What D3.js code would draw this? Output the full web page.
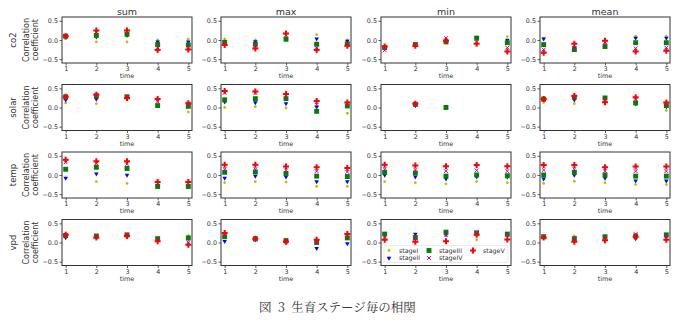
<!DOCTYPE html>
<html>
<head>
<meta charset="utf-8">
<script src="https://cdn.jsdelivr.net/npm/d3@7"></script>
<style>
  body { margin: 0; background: #fff; }
  text { font-family: "DejaVu Sans", sans-serif; fill: #333; }
</style>
</head>
<body>
<script>
// categories
const times = [1, 2, 3, 4, 5];
const stats = ['sum', 'max', 'min', 'mean'];
const variables = ['co2', 'solar', 'temp', 'vpd'];
const stages = ['stageI', 'stageII', 'stageIII', 'stageIV', 'stageV'];
const yTicks = [-0.5, 0.0, 0.5];

// correlation per stage (rows: stageI..stageV, cols: time 1..5)
const co2_sum = [
  [0.03, -0.05, -0.05, 0.0, 0.02],
  [0.1, 0.08, 0.12, -0.05, -0.05],
  [0.1, 0.12, 0.15, -0.12, -0.13],
  [0.1, 0.2, 0.22, -0.2, -0.2],
  [0.1, 0.25, 0.25, -0.26, -0.25]
];
const co2_max = [
  [0.03, 0.0, 0.02, 0.14, 0.0],
  [-0.05, -0.04, 0.02, 0.03, -0.03],
  [-0.06, -0.11, 0.02, -0.11, -0.1],
  [-0.1, -0.15, 0.12, -0.2, -0.12],
  [-0.13, -0.22, 0.17, -0.26, -0.15]
];
const co2_min = [
  [-0.22, -0.14, 0.02, 0.05, 0.09],
  [-0.2, -0.12, 0.0, 0.05, 0.0],
  [-0.2, -0.12, -0.05, 0.05, -0.07],
  [-0.27, -0.1, 0.05, -0.05, -0.2],
  [-0.17, -0.15, -0.02, -0.1, -0.3]
];
const co2_mean = [
  [0.05, -0.2, -0.15, 0.1, 0.1],
  [0.03, -0.2, -0.15, 0.05, 0.05],
  [-0.12, -0.25, -0.17, -0.07, -0.07],
  [-0.25, -0.22, -0.12, -0.22, -0.2],
  [-0.33, -0.1, -0.02, -0.3, -0.28]
];
const solar_sum = [
  [0.12, 0.1, 0.27, 0.03, -0.12],
  [0.2, 0.22, 0.27, 0.06, 0.05],
  [0.28, 0.3, 0.28, 0.05, 0.03],
  [0.25, 0.33, 0.26, 0.15, 0.1],
  [0.28, 0.33, 0.25, 0.22, 0.11]
];
const solar_max = [
  [0.0, 0.02, -0.01, 0.0, -0.15],
  [0.15, 0.13, 0.1, 0.02, 0.06],
  [0.2, 0.23, 0.23, -0.1, 0.04],
  [0.38, 0.38, 0.3, 0.07, 0.1],
  [0.43, 0.42, 0.35, 0.17, 0.13]
];
const solar_min = [
  [null, 0.08, null, null, null],
  [null, 0.05, 0.03, null, null],
  [null, 0.08, 0.0, null, null],
  [null, 0.1, null, null, null],
  [null, 0.1, null, null, null]
];
const solar_mean = [
  [0.13, 0.1, 0.22, 0.07, -0.08],
  [0.22, 0.2, 0.22, 0.1, 0.02],
  [0.22, 0.27, 0.25, 0.12, 0.05],
  [0.2, 0.27, 0.2, 0.2, 0.1],
  [0.22, 0.3, 0.14, 0.27, 0.13]
];
const temp_sum = [
  [-0.08, -0.17, -0.22, -0.3, -0.3],
  [-0.08, 0.03, 0.0, -0.28, -0.28],
  [0.15, 0.2, 0.17, -0.3, -0.3],
  [0.33, 0.3, 0.28, -0.22, -0.22],
  [0.4, 0.36, 0.36, -0.18, -0.18]
];
const temp_max = [
  [-0.2, -0.17, -0.18, -0.3, -0.3],
  [-0.08, -0.03, -0.05, -0.17, -0.17],
  [0.07, 0.08, 0.04, -0.03, -0.04],
  [0.15, 0.15, 0.12, 0.1, 0.08],
  [0.27, 0.27, 0.22, 0.2, 0.18]
];
const temp_min = [
  [-0.17, -0.2, -0.23, -0.17, -0.2],
  [0.0, -0.05, -0.1, -0.05, -0.05],
  [0.07, 0.05, -0.03, 0.0, -0.02],
  [0.15, 0.13, 0.1, 0.12, 0.1],
  [0.27, 0.25, 0.23, 0.26, 0.23]
];
const temp_mean = [
  [-0.22, -0.16, -0.2, -0.25, -0.25],
  [-0.1, 0.0, -0.08, -0.15, -0.15],
  [0.0, 0.07, 0.0, -0.03, -0.03],
  [0.13, 0.15, 0.1, 0.1, 0.1],
  [0.26, 0.26, 0.2, 0.22, 0.22]
];
const vpd_sum = [
  [0.18, 0.17, 0.2, 0.1, 0.18],
  [0.13, 0.15, 0.18, 0.1, 0.1],
  [0.18, 0.17, 0.2, 0.1, 0.12],
  [0.2, 0.15, 0.18, 0.07, 0.0],
  [0.2, 0.13, 0.17, 0.03, -0.06]
];
const vpd_max = [
  [0.18, 0.1, 0.06, 0.03, 0.2],
  [0.03, 0.08, 0.04, -0.15, -0.03],
  [0.15, 0.1, 0.05, 0.0, 0.12],
  [0.2, 0.08, 0.0, 0.0, 0.18],
  [0.25, 0.1, 0.02, 0.07, 0.22]
];
const vpd_min = [
  [0.22, 0.15, 0.25, 0.07, 0.22],
  [0.2, 0.22, 0.2, 0.22, 0.2],
  [0.22, 0.13, 0.27, 0.25, 0.22],
  [0.15, 0.1, 0.2, 0.27, 0.2],
  [0.07, 0.02, 0.03, 0.2, 0.08]
];
const vpd_mean = [
  [0.16, 0.17, 0.15, 0.17, 0.2],
  [0.15, 0.1, 0.13, 0.1, 0.15],
  [0.15, 0.1, 0.15, 0.17, 0.2],
  [0.15, 0.1, 0.13, 0.22, 0.17],
  [0.13, 0.02, 0.06, 0.15, 0.07]
];

const grid = {
  co2: [co2_sum, co2_max, co2_min, co2_mean],
  solar: [solar_sum, solar_max, solar_min, solar_mean],
  temp: [temp_sum, temp_max, temp_min, temp_mean],
  vpd: [vpd_sum, vpd_max, vpd_min, vpd_mean]
};

// marker styles per stage
const markerStyle = [
  { type: d3.symbolCircle, size: 6, fill: '#bfbf00', stroke: 'none', rot: 0 },
  { type: d3.symbolTriangle, size: 9, fill: '#0000ff', stroke: 'none', rot: 180 },
  { type: d3.symbolSquare, size: 24, fill: '#008000', stroke: 'none', rot: 0 },
  { type: d3.symbolX, size: 11, fill: 'none', stroke: '#bf00bf', rot: 0 },
  { type: d3.symbolCross, size: 20, fill: '#ff0000', stroke: 'none', rot: 0 }
];

const W = 675, H = 328;
const colLeft = [62, 221, 381, 540];
const rowTop = [17, 84.5, 152, 219.5];
const pw = 130, ph = 46;

const svg = d3.select('body').append('svg')
  .attr('width', W)
  .attr('height', H)
  .style('background', '#fff');

function drawMarker(g, i, x, y) {
  const m = markerStyle[i];
  g.append('path')
    .attr('d', d3.symbol().type(m.type).size(m.size)())
    .attr('transform', 'translate(' + x + ',' + y + ') rotate(' + m.rot + ')')
    .attr('fill', m.fill)
    .attr('stroke', m.stroke)
    .attr('stroke-width', m.stroke === 'none' ? 0 : 1);
}

variables.forEach(function (v, r) {
  stats.forEach(function (s, c) {
    const x0 = colLeft[c], y0 = rowTop[r];
    const x = d3.scaleLinear().domain([0.88, 5.12]).range([0, pw]);
    const y = d3.scaleLinear().domain([-0.6, 0.6]).range([ph, 0]);
    const g = svg.append('g').attr('transform', 'translate(' + x0 + ',' + y0 + ')');

    const xAxis = g.append('g').attr('transform', 'translate(0,' + ph + ')')
      .call(d3.axisBottom(x).tickValues(times).tickFormat(d3.format('d')).tickSize(2.5).tickPadding(1.2));
    const yAxis = g.append('g')
      .call(d3.axisLeft(y).tickValues(yTicks).tickFormat(d => d < 0 ? '\u22120.5' : d3.format('.1f')(d)).tickSize(2.5).tickPadding(1.5));
    [xAxis, yAxis].forEach(a => {
      a.select('.domain').remove();
      a.selectAll('line').attr('stroke', '#333').attr('stroke-width', 0.8);
      a.selectAll('text').style('font-size', '6.4px').attr('fill', '#333');
    });

    const data = grid[v][c];
    data.forEach(function (vals, i) {
      vals.forEach(function (val, t) {
        if (val === null) return;
        drawMarker(g, i, x(times[t]), y(val));
      });
    });

    g.append('rect')
      .attr('width', pw).attr('height', ph)
      .attr('fill', 'none').attr('stroke', '#333').attr('stroke-width', 1);

    g.append('text')
      .attr('x', pw / 2).attr('y', ph + 15)
      .attr('text-anchor', 'middle')
      .style('font-size', '6.4px')
      .text('time');

    if (r === 0) {
      g.append('text')
        .attr('x', pw / 2).attr('y', -2)
        .attr('text-anchor', 'middle')
        .style('font-size', '9.5px')
        .text(s);
    }

    if (c === 0) {
      g.append('text')
        .attr('transform', 'translate(' + (-33) + ',' + (ph / 2) + ') rotate(-90)')
        .attr('text-anchor', 'middle')
        .style('font-size', '8px')
        .text('Correlation');
      g.append('text')
        .attr('transform', 'translate(' + (-24) + ',' + (ph / 2) + ') rotate(-90)')
        .attr('text-anchor', 'middle')
        .style('font-size', '8px')
        .text('coefficient');
      g.append('text')
        .attr('transform', 'translate(' + (-46) + ',' + (ph / 2) + ') rotate(-90)')
        .attr('text-anchor', 'middle')
        .style('font-size', '8.5px')
        .text(v);
    }

    // legend in the min panel of the last row
    if (r === 3 && c === 2) {
      const lg = g.append('g').attr('transform', 'translate(3,' + (ph - 20) + ')');
      lg.append('rect')
        .attr('width', 124).attr('height', 17).attr('rx', 1.5)
        .attr('fill', 'rgba(255,255,255,0.8)')
        .attr('stroke', '#ddd').attr('stroke-width', 0.6);
      const colX = [5, 45, 89];
      stages.forEach(function (name, i) {
        const cx = colX[Math.floor(i / 2)];
        const cy = 5 + (i % 2) * 7.5;
        drawMarker(lg, i, cx, cy);
        lg.append('text')
          .attr('x', cx + 10).attr('y', cy + 2.3)
          .style('font-size', '6.3px')
          .text(name);
      });
    }
  });
});

svg.append('text')
  .attr('x', W / 2).attr('y', 312)
  .attr('text-anchor', 'middle')
  .style('font-family', '"Noto Serif CJK JP", "Noto Sans CJK JP", serif')
  .style('font-size', '12.5px')
  .style('white-space', 'pre')
  .attr('fill', '#222')
  .text('図  3  生育ステージ毎の相関');
</script>
</body>
</html>
